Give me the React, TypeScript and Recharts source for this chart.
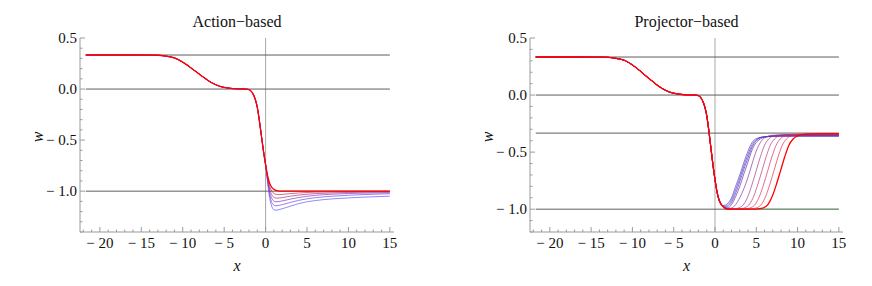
import React from 'react';
import { LineChart, Line, XAxis, YAxis, ReferenceLine } from 'recharts';

const FONT = "'Liberation Serif', 'Times New Roman', serif";
const FRAME = '#9a9a9a';
const REFC = '#5e5e5e';

// ticks
const xTicks = [-22,-21,-20,-19,-18,-17,-16,-15,-14,-13,-12,-11,-10,-9,-8,-7,-6,-5,-4,-3,-2,-1,0,1,2,3,4,5,6,7,8,9,10,11,12,13,14,15];
const xMajor = [-20,-15,-10,-5,0,5,10,15];
const yTicksAction = [-1.4,-1.3,-1.2,-1.1,-1.0,-0.9,-0.8,-0.7,-0.6,-0.5,-0.4,-0.3,-0.2,-0.1,0,0.1,0.2,0.3,0.4,0.5];
const yTicksProj = [-1.2,-1.1,-1.0,-0.9,-0.8,-0.7,-0.6,-0.5,-0.4,-0.3,-0.2,-0.1,0,0.1,0.2,0.3,0.4,0.5];
const yMajor = [-1.0,-0.5,0,0.5];

// common part of every curve (x <= 0)
const commonX = [-21.7,-16,-14,-13,-12,-11,-10,-9.5,-9,-8.5,-8,-7.5,-7,-6.5,-6,-5.5,-5,-4,-3,-2.5,-2,-1.75,-1.5,-1.25,-1,-0.75,-0.5,-0.25,0];
const commonW = [0.3333,0.3333,0.333,0.331,0.322,0.305,0.264,0.237,0.207,0.176,0.146,0.116,0.087,0.062,0.042,0.026,0.016,0.005,0.001,0.0,-0.005,-0.02,-0.05,-0.10,-0.18,-0.31,-0.46,-0.61,-0.74];

// Action-based tails (x > 0), blue -> red
const actionTailX = [0.25,0.5,0.75,1,1.25,1.5,2,2.5,3,4,5,6,8,10,12,15];
const actionTailW = [
  [-0.92,-1.07,-1.15,-1.182,-1.186,-1.183,-1.172,-1.16,-1.147,-1.122,-1.104,-1.092,-1.076,-1.066,-1.058,-1.049],
  [-0.90,-1.04,-1.11,-1.138,-1.143,-1.141,-1.132,-1.121,-1.11,-1.09,-1.075,-1.064,-1.05,-1.04,-1.033,-1.025],
  [-0.89,-1.01,-1.07,-1.097,-1.104,-1.103,-1.096,-1.087,-1.078,-1.062,-1.05,-1.041,-1.03,-1.023,-1.019,-1.015],
  [-0.875,-0.98,-1.035,-1.06,-1.068,-1.068,-1.063,-1.056,-1.049,-1.038,-1.03,-1.024,-1.017,-1.013,-1.01,-1.008],
  [-0.86,-0.95,-1.0,-1.022,-1.031,-1.034,-1.032,-1.028,-1.024,-1.018,-1.013,-1.01,-1.007,-1.005,-1.004,-1.003],
  [-0.85,-0.925,-0.962,-0.982,-0.993,-0.998,-1.0,-1.0,-1.0,-1.0,-1.0,-1.0,-1.0,-1.0,-1.0,-1.0],
];
const actionColors = ['#5555ff','#6a44dd','#8033bb','#a02a8a','#d0204a','#ff0000'];

// Projector-based tails (x > 0), blue -> red
const projTailX = [
  [0.25,0.5,0.75,1,1.25,1.5,2,2.5,3,3.5,4,4.5,5,6,8,11,15],
  [0.25,0.5,0.75,1,1.25,1.5,2,2.5,3,3.5,4,4.5,5,6,8,11,15],
  [0.25,0.5,0.75,1,1.25,1.5,2,2.5,3,3.5,4,4.5,5,6,8,11,15],
  [0.25,0.5,0.75,1,1.25,1.5,2,2.5,3,3.5,4,4.5,5,6,8,11,15],
  [0.25,0.5,0.75,1,1.25,1.5,2,2.5,3,3.5,4,4.5,5,5.5,6,7,9,12,15],
  [0.25,0.5,0.75,1,1.25,1.5,2,2.5,3,3.5,4,4.5,5,5.5,6,6.5,7,8,10,15],
  [0.25,0.5,0.75,1,1.25,1.5,2,2.5,3.2,3.7,4.2,4.7,5.2,5.7,6.2,6.7,7.2,7.7,8.7,11,15],
  [0.25,0.5,0.75,1,1.25,1.5,2,2.5,3,3.9,4.4,4.9,5.4,5.9,6.4,6.9,7.4,7.9,8.4,9.4,12,15],
  [0.25,0.5,0.75,1,1.25,1.5,2,2.5,3,4,4.65,5.15,5.65,6.15,6.65,7.15,7.65,8.15,8.65,9.15,10.15,12,15],
  [0.25,0.5,0.75,1,1.25,1.5,2,2.5,3,4,5,5.45,5.95,6.45,6.95,7.45,7.95,8.45,8.95,9.45,9.95,10.95,13,15],
];
const projTailW = [
  [-0.85,-0.92,-0.955,-0.968,-0.965,-0.952,-0.9,-0.8,-0.7,-0.59,-0.49,-0.415,-0.382,-0.366,-0.362,-0.362,-0.362],
  [-0.85,-0.92,-0.957,-0.972,-0.974,-0.965,-0.92,-0.83,-0.73,-0.62,-0.52,-0.435,-0.39,-0.365,-0.359,-0.358,-0.358],
  [-0.85,-0.92,-0.958,-0.975,-0.981,-0.977,-0.94,-0.86,-0.76,-0.65,-0.55,-0.455,-0.4,-0.365,-0.356,-0.355,-0.355],
  [-0.85,-0.92,-0.958,-0.977,-0.986,-0.987,-0.96,-0.89,-0.8,-0.69,-0.585,-0.48,-0.415,-0.37,-0.354,-0.352,-0.352],
  [-0.85,-0.92,-0.958,-0.978,-0.99,-0.994,-0.99,-0.96,-0.9,-0.82,-0.72,-0.6,-0.49,-0.415,-0.375,-0.352,-0.349,-0.348,-0.348],
  [-0.85,-0.92,-0.958,-0.98,-0.992,-0.997,-0.999,-0.995,-0.985,-0.955,-0.885,-0.78,-0.66,-0.54,-0.44,-0.385,-0.36,-0.348,-0.346,-0.346],
  [-0.85,-0.92,-0.958,-0.98,-0.993,-0.998,-1.0,-1.0,-0.995,-0.985,-0.955,-0.885,-0.78,-0.66,-0.54,-0.44,-0.385,-0.36,-0.346,-0.344,-0.344],
  [-0.85,-0.92,-0.958,-0.98,-0.993,-0.998,-1.0,-1.0,-1.0,-0.995,-0.985,-0.955,-0.885,-0.78,-0.66,-0.54,-0.44,-0.385,-0.36,-0.345,-0.342,-0.342],
  [-0.85,-0.92,-0.958,-0.98,-0.993,-0.998,-1.0,-1.0,-1.0,-1.0,-0.995,-0.985,-0.955,-0.885,-0.78,-0.66,-0.54,-0.44,-0.385,-0.36,-0.344,-0.34,-0.34],
  [-0.85,-0.92,-0.958,-0.98,-0.993,-0.998,-1.0,-1.0,-1.0,-1.0,-1.0,-0.995,-0.985,-0.955,-0.885,-0.78,-0.66,-0.54,-0.44,-0.385,-0.36,-0.342,-0.338,-0.338],
];
const projColors = ['#4a3ccc','#4e34c0','#5430b4','#5c2ca8','#7e309e','#a0308a','#bc2c72','#d6285a','#ec2040','#ff0000'];

// green limiting curve (Projector-based)
const greenTailX = [0.25,0.5,0.75,1,1.25,1.5,2,15];
const greenTailW = [-0.85,-0.925,-0.962,-0.982,-0.993,-0.998,-1.0,-1.0];

const actionHLines = [1 / 3, 0, -1];
const projHLines = [1 / 3, 0, -1 / 3, -1];

const mk = (xs: number[], ws: number[]) => xs.map((x, i) => ({ x, w: ws[i] }));
const build = (tx: number[], tw: number[]) => mk(commonX, commonW).concat(mk(tx, tw));

const near = (v: number, list: number[]) => list.some((m) => Math.abs(m - v) < 1e-6);
const fmtX = (v: number) => (v < 0 ? '\u2212 ' + Math.abs(v) : String(v));
const fmtY = (v: number) => (v < 0 ? '\u2212 ' + Math.abs(v).toFixed(1) : v.toFixed(1));

const BottomTick = (p: any) => {
  const v = p.payload.value;
  const major = near(v, xMajor);
  return (
    <g>
      <line x1={p.x} x2={p.x} y1={p.y} y2={p.y - (major ? 5 : 2.5)} stroke={FRAME} strokeWidth={1} />
      {major && (
        <text x={p.x} y={p.y + 11} textAnchor="middle" dominantBaseline="central" fontFamily={FONT} fontSize={15} fill="#111">
          {fmtX(v)}
        </text>
      )}
    </g>
  );
};
const TopTick = (p: any) => {
  const major = near(p.payload.value, xMajor);
  return <line x1={p.x} x2={p.x} y1={p.y} y2={p.y + (major ? 5 : 2.5)} stroke={FRAME} strokeWidth={1} />;
};
const LeftTick = (p: any) => {
  const v = p.payload.value;
  const major = near(v, yMajor);
  return (
    <g>
      <line x1={p.x} x2={p.x + (major ? 5 : 2.5)} y1={p.y} y2={p.y} stroke={FRAME} strokeWidth={1} />
      {major && (
        <text x={p.x - 3} y={p.y} textAnchor="end" dominantBaseline="central" fontFamily={FONT} fontSize={15} fill="#111">
          {fmtY(v)}
        </text>
      )}
    </g>
  );
};
const RightTick = (p: any) => {
  const major = near(p.payload.value, yMajor);
  return <line x1={p.x} x2={p.x - (major ? 5 : 2.5)} y1={p.y} y2={p.y} stroke={FRAME} strokeWidth={1} />;
};

type Series = { data: { x: number; w: number }[]; color: string };

const Panel = (props: {
  left: number;
  title: string;
  yDomain: [number, number];
  yTicks: number[];
  hLines: number[];
  yAxisW: number;
  marginRight: number;
  series: Series[];
}) => {
  const { left, title, yDomain, yTicks, hLines, yAxisW, marginRight, series } = props;
  const plotL = yAxisW;
  const plotR = 436 - marginRight;
  const cx = (plotL + plotR) / 2;
  const last = series.length - 1;
  const txt: React.CSSProperties = { position: 'absolute', fontFamily: FONT, color: '#111', whiteSpace: 'nowrap', lineHeight: 1 };
  return (
    <div style={{ position: 'absolute', left, top: 0, width: 436, height: 286 }}>
      <LineChart width={436} height={286} margin={{ top: 38, right: marginRight, bottom: 0, left: 0 }}>
        <XAxis
          dataKey="x"
          type="number"
          domain={[-22.4, 15.5]}
          ticks={xTicks}
          interval={0}
          allowDataOverflow
          height={54}
          tickSize={0}
          tickMargin={0}
          axisLine={{ stroke: FRAME }}
          tickLine={false}
          tick={(p: any) => <BottomTick {...p} />}
        />
        <XAxis
          xAxisId="top"
          orientation="top"
          dataKey="x"
          type="number"
          domain={[-22.4, 15.5]}
          ticks={xTicks}
          interval={0}
          allowDataOverflow
          height={0}
          tickSize={0}
          tickMargin={0}
          axisLine={{ stroke: FRAME }}
          tickLine={false}
          tick={(p: any) => <TopTick {...p} />}
        />
        <YAxis
          type="number"
          domain={yDomain}
          ticks={yTicks}
          interval={0}
          allowDataOverflow
          width={yAxisW}
          tickSize={0}
          tickMargin={0}
          axisLine={{ stroke: FRAME }}
          tickLine={false}
          tick={(p: any) => <LeftTick {...p} />}
        />
        <YAxis
          yAxisId="right"
          orientation="right"
          type="number"
          domain={yDomain}
          ticks={yTicks}
          interval={0}
          allowDataOverflow
          width={0}
          tickSize={0}
          tickMargin={0}
          axisLine={{ stroke: FRAME }}
          tickLine={false}
          tick={(p: any) => <RightTick {...p} />}
        />
        <ReferenceLine x={0} stroke="#a8a8a8" strokeWidth={1} />
        {hLines.map((h, i) => (
          <ReferenceLine
            key={'h' + i}
            segment={[{ x: commonX[0], y: h }, { x: 15, y: h }]}
            stroke={REFC}
            strokeWidth={1}
          />
        ))}
        {series.map((s, i) => (
          <Line
            key={'s' + i}
            data={s.data}
            dataKey="w"
            type="monotone"
            stroke={s.color}
            strokeWidth={i === last ? 1.3 : 0.8}
            strokeOpacity={i === last ? 1 : 0.85}
            dot={false}
            isAnimationActive={false}
          />
        ))}
      </LineChart>
      <div style={{ ...txt, left: cx, top: 22, transform: 'translate(-50%, -50%)', fontSize: 16 }}>{title}</div>
      <div style={{ ...txt, left: cx, top: 266, transform: 'translate(-50%, -50%)', fontSize: 16, fontStyle: 'italic' }}>x</div>
      <div style={{ ...txt, left: plotL - 42, top: 137, transform: 'translate(-50%, -50%) rotate(-90deg)', fontSize: 16, fontStyle: 'italic' }}>w</div>
    </div>
  );
};

export default function App() {
  const actionSeries: Series[] = actionTailW.map((tw, i) => ({ data: build(actionTailX, tw), color: actionColors[i] }));
  const projSeries: Series[] = [{ data: build(greenTailX, greenTailW), color: '#6aa86a' }].concat(
    projTailW.map((tw, i) => ({ data: build(projTailX[i], tw), color: projColors[i] }))
  );
  return (
    <div style={{ position: 'absolute', left: 0, top: 0, width: 872, height: 286, background: '#fff', overflow: 'hidden' }}>
      <Panel
        left={0}
        title={'Action\u2212based'}
        yDomain={[-1.4, 0.5]}
        yTicks={yTicksAction}
        hLines={actionHLines}
        yAxisW={80}
        marginRight={42}
        series={actionSeries}
      />
      <Panel
        left={436}
        title={'Projector\u2212based'}
        yDomain={[-1.2, 0.5]}
        yTicks={yTicksProj}
        hLines={projHLines}
        yAxisW={94}
        marginRight={29}
        series={projSeries}
      />
    </div>
  );
}
